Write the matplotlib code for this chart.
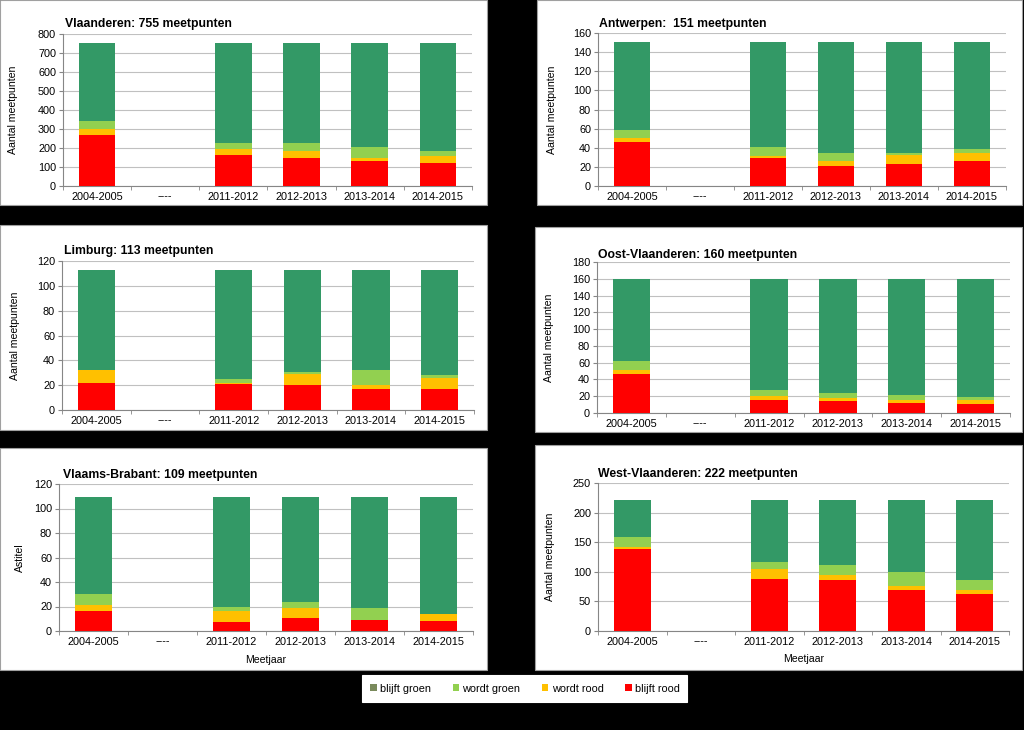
import matplotlib
matplotlib.use("Agg")
import matplotlib.pyplot as plt
from matplotlib.patches import Rectangle, Patch
import numpy as np

plt.rcParams['font.family'] = ['Liberation Sans', 'DejaVu Sans']

W, H = 1024, 730

categories = ['2004-2005', '----', '2011-2012', '2012-2013', '2013-2014', '2014-2015']
series_names = ['blijft groen', 'wordt groen', 'wordt rood', 'blijft rood']

# per region: blijft rood, wordt rood, wordt groen, blijft groen
vl_rood = [268, 0, 162, 150, 130, 123]
vl_wrood = [30, 0, 32, 35, 20, 36]
vl_wgroen = [44, 0, 33, 42, 54, 24]
vl_groen = [413, 0, 528, 528, 551, 572]

ant_rood = [46, 0, 29, 21, 23, 26]
ant_wrood = [4, 0, 2, 5, 9, 8]
ant_wgroen = [9, 0, 10, 9, 2, 5]
ant_groen = [92, 0, 110, 116, 117, 112]

lim_rood = [22, 0, 21, 20, 17, 17]
lim_wrood = [10, 0, 1, 9, 3, 9]
lim_wgroen = [0, 0, 3, 2, 12, 2]
lim_groen = [81, 0, 88, 82, 81, 85]

ovl_rood = [46, 0, 15, 14, 12, 11]
ovl_wrood = [5, 0, 5, 4, 3, 4]
ovl_wgroen = [11, 0, 7, 6, 6, 4]
ovl_groen = [98, 0, 133, 136, 139, 141]

vb_rood = [16, 0, 7, 11, 9, 8]
vb_wrood = [5, 0, 9, 8, 0, 6]
vb_wgroen = [9, 0, 4, 5, 10, 0]
vb_groen = [79, 0, 89, 85, 90, 95]

wvl_rood = [138, 0, 87, 86, 69, 62]
wvl_wrood = [4, 0, 17, 8, 7, 8]
wvl_wgroen = [17, 0, 13, 18, 24, 16]
wvl_groen = [63, 0, 105, 110, 122, 136]

c_groen = '#339966'
c_wgroen = '#92d050'
c_wrood = '#ffc000'
c_rood = '#ff0000'
c_legend_groen = '#7a8a5c'

fig = plt.figure(figsize=(W / 100, H / 100), dpi=100)
fig.patch.set_facecolor('black')


def box(x0, y0, x1, y1, edge='#a0a0a0'):
    fig.patches.append(Rectangle((x0 / W, 1 - y1 / H), (x1 - x0) / W, (y1 - y0) / H,
                                 transform=fig.transFigure, facecolor='white',
                                 edgecolor=edge, lw=0.8, zorder=-5))


def panel(ax_px, title, title_px, data, ymax, ystep, ylabel, ylab_x, xlabel=None, xlab_y=None):
    x0, y0, x1, y1 = ax_px
    ax = fig.add_axes([x0 / W, 1 - y1 / H, (x1 - x0) / W, (y1 - y0) / H])
    ax.set_facecolor('white')
    rood, wrood, wgroen, groen = [np.array(d) for d in data]
    x = np.arange(len(categories))
    bw = 0.54
    ax.bar(x, rood, bw, color=c_rood, zorder=3)
    ax.bar(x, wrood, bw, bottom=rood, color=c_wrood, zorder=3)
    ax.bar(x, wgroen, bw, bottom=rood + wrood, color=c_wgroen, zorder=3)
    ax.bar(x, groen, bw, bottom=rood + wrood + wgroen, color=c_groen, zorder=3)
    ax.set_xlim(-0.5, len(categories) - 0.5)
    ax.set_ylim(0, ymax)
    ax.set_yticks(np.arange(0, ymax + 1, ystep))
    ax.set_xticks(x)
    ax.set_xticklabels(categories)
    ax.set_xticks(np.arange(-0.5, len(categories), 1), minor=True)
    ax.tick_params(axis='x', which='major', length=0, pad=4, labelsize=7.8)
    ax.tick_params(axis='x', which='minor', length=3, color='#868686')
    ax.tick_params(axis='y', length=3, color='#868686', labelsize=7.8, pad=2)
    ax.grid(axis='y', color='#c0c0c0', lw=0.8, zorder=0)
    for s in ['top', 'right']:
        ax.spines[s].set_visible(False)
    for s in ['left', 'bottom']:
        ax.spines[s].set_color('#868686')
        ax.spines[s].set_linewidth(0.8)
    ax.set_ylabel(ylabel, fontsize=7.6)
    ax.yaxis.set_label_coords((ylab_x - x0) / (x1 - x0), 0.5)
    fig.text(title_px[0] / W, 1 - title_px[1] / H, title, fontsize=8.8,
             fontweight='bold', ha='left', va='center')
    if xlabel:
        fig.text((x0 + x1) / 2 / W, 1 - xlab_y / H, xlabel, fontsize=7.6,
                 ha='center', va='center')
    return ax


box(0, 0, 487, 205)
box(537, 0, 1022, 205)
box(0, 225, 487, 430)
box(535, 227, 1022, 432)
box(0, 448, 487, 670)
box(535, 445, 1022, 670)
box(362, 675, 687, 702, edge='white')

panel((63, 34, 472, 186), 'Vlaanderen: 755 meetpunten', (65, 24),
      (vl_rood, vl_wrood, vl_wgroen, vl_groen), 800, 100, 'Aantal meetpunten', 18)
panel((598, 33, 1006, 186), 'Antwerpen:  151 meetpunten', (599, 24),
      (ant_rood, ant_wrood, ant_wgroen, ant_groen), 160, 20, 'Aantal meetpunten', 557)
panel((62, 261, 474, 410), 'Limburg: 113 meetpunten', (64, 251),
      (lim_rood, lim_wrood, lim_wgroen, lim_groen), 120, 20, 'Aantal meetpunten', 20)
panel((597, 262, 1010, 413), 'Oost-Vlaanderen: 160 meetpunten', (598, 255),
      (ovl_rood, ovl_wrood, ovl_wgroen, ovl_groen), 180, 20, 'Aantal meetpunten', 554)
panel((59, 484, 473, 631), 'Vlaams-Brabant: 109 meetpunten', (63, 475),
      (vb_rood, vb_wrood, vb_wgroen, vb_groen), 120, 20, 'Astitel', 25,
      xlabel='Meetjaar', xlab_y=660)
panel((598, 483, 1009, 631), 'West-Vlaanderen: 222 meetpunten', (598, 474),
      (wvl_rood, wvl_wrood, wvl_wgroen, wvl_groen), 250, 50, 'Aantal meetpunten', 555,
      xlabel='Meetjaar', xlab_y=659)

handles = [Patch(facecolor=c) for c in [c_legend_groen, c_wgroen, c_wrood, c_rood]]
leg = fig.legend(handles, series_names, loc='center', ncol=4,
                 bbox_to_anchor=((378 + 672) / 2 / W, 1 - 688.5 / H),
                 fontsize=7.8, frameon=False,
                 handlelength=0.6, handleheight=0.6, handletextpad=0.3,
                 columnspacing=2.0, borderpad=0.2)

fig.savefig('out.png', dpi=100, facecolor='black')
